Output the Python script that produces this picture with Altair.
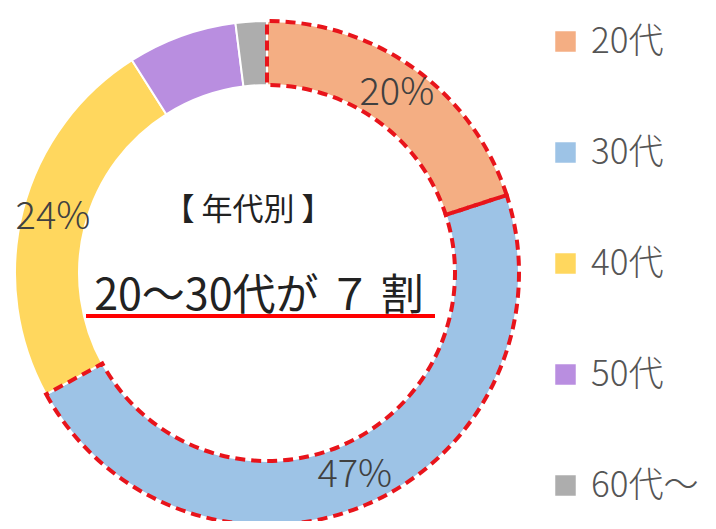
import altair as alt
import pandas as pd

categories = ["20代", "30代", "40代", "50代", "60代～"]
values = [20, 47, 24, 7, 2]
labels = ["20%", "47%", "24%", "", ""]
outlined = [1, 1, 0, 0, 0]
colors = ["#F4AE83", "#9DC3E6", "#FFD75E", "#B98EE0", "#ADADAD"]

df = pd.DataFrame({
    "cat": categories,
    "val": values,
    "label": labels,
    "outline": outlined,
    "idx": list(range(len(categories))),
})

CX, CY = 259, 265
FONT = "Noto Sans CJK JP"

base = alt.Chart(df).encode(
    theta=alt.Theta("val:Q", stack=True),
    order=alt.Order("idx:Q"),
)

arcs = base.mark_arc(outerRadius=252, innerRadius=188, stroke="white", strokeWidth=2).encode(
    x=alt.value(CX), y=alt.value(CY),
    color=alt.Color(
        "cat:N",
        sort=categories,
        scale=alt.Scale(domain=categories, range=colors),
        legend=alt.Legend(
            title=None, orient="none", legendX=540, legendY=16,
            symbolType="square", symbolSize=420, symbolStrokeWidth=0,
            labelFont=FONT, labelFontSize=35, labelColor="#555555",
            labelFontWeight=300,
            rowPadding=75, labelOffset=8, labelLimit=300,
        ),
    ),
)

outline = base.mark_arc(outerRadius=252, innerRadius=188, fillOpacity=0,
                        strokeWidth=4, strokeDash=[10, 6]).encode(
    x=alt.value(CX), y=alt.value(CY),
    stroke=alt.condition("datum.outline == 1", alt.value("#E8141B"), alt.value("transparent")),
)

pct = base.mark_text(radius=221, font=FONT, fontSize=38, fontWeight=300, color="#404040").encode(
    x=alt.value(CX), y=alt.value(CY),
    text="label:N",
)

titles = ["【 年代別 】", "20～30代が ７ 割"]
title_df = pd.DataFrame({"t": titles, "px": [240, 251], "py": [203, 289], "fs": [31, 43]})
center_text = alt.Chart(title_df).mark_text(font=FONT, color="#222222", fontWeight=400,
                                            baseline="middle", align="center").encode(
    x=alt.X("px:Q", scale=None), y=alt.Y("py:Q", scale=None),
    text="t:N", size=alt.Size("fs:Q", scale=None, legend=None),
)

underline = alt.Chart(pd.DataFrame({"a": [0]})).mark_rule(color="#FF0000", strokeWidth=4).encode(
    x=alt.value(78), x2=alt.value(427), y=alt.value(308),
)

chart = alt.layer(arcs, outline, pct, center_text, underline).properties(
    width=700, height=513, autosize=alt.AutoSizeParams(type="none"), padding=0,
).configure_view(stroke=None)

chart.save("out.html", embed_options={"renderer": "svg", "actions": False})
